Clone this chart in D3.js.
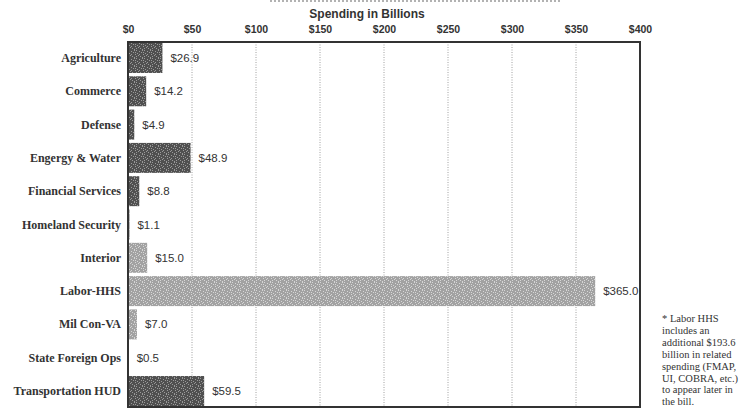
<!DOCTYPE html>
<html>
<head>
<meta charset="utf-8">
<script src="https://cdn.jsdelivr.net/npm/d3@7"></script>
<style>
  body { margin: 0; background: #fff; }
  svg { display: block; }
</style>
</head>
<body>
<div id="graph"></div>
<script>
// data
const categories = ["Agriculture", "Commerce", "Defense", "Engergy & Water", "Financial Services",
  "Homeland Security", "Interior", "Labor-HHS", "Mil Con-VA", "State Foreign Ops", "Transportation HUD"];
const values = [26.9, 14.2, 4.9, 48.9, 8.8, 1.1, 15.0, 365.0, 7.0, 0.5, 59.5];
const shades = ["dark", "dark", "dark", "dark", "dark", "dark", "light", "light", "light", "light", "dark"];
const ticks = [0, 50, 100, 150, 200, 250, 300, 350, 400];
const footnote = ["* Labor HHS", "includes an", "additional $193.6", "billion in related",
  "spending (FMAP,", "UI, COBRA, etc.)", "to appear later in", "the bill."];

let margin = {top: 42, right: 103, bottom: 2, left: 128},
  width = 743 - margin.left - margin.right,
  height = 409 - margin.top - margin.bottom;

let svg = d3.select("#graph").append("svg")
  .attr("width", 743)
  .attr("height", 409);

// scanned look: scattered speckle in an 8x8 tile
let speckle = [[0,0],[3,1],[6,0],[1,3],[5,2],[7,4],[2,5],[4,6],[6,7],[0,6],[3,4],[7,2]];
let defs = svg.append("defs");
function dither(id, base, spot) {
  let p = defs.append("pattern").attr("id", id)
    .attr("width", 8).attr("height", 8).attr("patternUnits", "userSpaceOnUse");
  p.append("rect").attr("width", 8).attr("height", 8).attr("fill", base);
  p.selectAll("rect.s").data(speckle).join("rect").attr("class", "s")
    .attr("x", d => d[0]).attr("y", d => d[1]).attr("width", 1).attr("height", 1).attr("fill", spot);
}
dither("darkfill", "#505050", "#9a9a9a");
dither("lightfill", "#a2a2a2", "#d6d6d6");

// cut off title line at top
svg.append("line")
  .attr("x1", 270).attr("x2", 560).attr("y1", 1).attr("y2", 1)
  .attr("stroke", "#999").attr("stroke-width", 1.5).attr("stroke-dasharray", "2,2");

let g = svg.append("g").attr("transform", "translate(" + margin.left + "," + margin.top + ")");

let x = d3.scaleLinear().domain([0, 400]).range([0, width]);
let y = d3.scaleBand().domain(categories).range([0, height]).paddingInner(0.1).paddingOuter(0.03);

// grid
g.selectAll(".grid").data(ticks.slice(1, -1)).join("line")
  .attr("x1", d => x(d)).attr("x2", d => x(d))
  .attr("y1", 0).attr("y2", height)
  .attr("stroke", "#888").attr("stroke-width", 0.8).attr("stroke-dasharray", "1,1.5");

// top axis
let axis = g.append("g")
  .call(d3.axisTop(x).tickValues(ticks).tickFormat(d => "$" + d).tickSize(0).tickPadding(9));
axis.select(".domain").remove();
axis.selectAll("text")
  .attr("font-family", "Liberation Sans, Arial, sans-serif")
  .attr("font-size", 10.5).attr("font-weight", "bold").attr("fill", "#333");

svg.append("text")
  .attr("x", 367).attr("y", 18).attr("text-anchor", "middle")
  .attr("font-family", "Liberation Sans, Arial, sans-serif")
  .attr("font-size", 12).attr("font-weight", "bold").attr("fill", "#333")
  .text("Spending in Billions");

// bars
g.selectAll(".bar").data(values).join("rect")
  .attr("x", 0)
  .attr("y", (d, i) => y(categories[i]))
  .attr("width", d => x(d))
  .attr("height", y.bandwidth())
  .attr("fill", (d, i) => shades[i] == "dark" ? "url(#darkfill)" : "url(#lightfill)");

// value labels
g.selectAll(".val").data(values).join("text")
  .attr("x", d => x(d) + 8)
  .attr("y", (d, i) => y(categories[i]) + y.bandwidth() / 2 + 4)
  .attr("font-family", "Liberation Sans, Arial, sans-serif")
  .attr("font-size", 11.5).attr("fill", "#333")
  .text(d => "$" + d.toFixed(1));

// category labels
g.selectAll(".cat").data(categories).join("text")
  .attr("x", -7)
  .attr("y", d => y(d) + y.bandwidth() / 2 + 4)
  .attr("text-anchor", "end")
  .attr("font-family", "Liberation Serif, Times New Roman, serif")
  .attr("font-size", 12).attr("font-weight", "bold").attr("fill", "#333")
  .text(d => d);

// frame
g.append("rect")
  .attr("x", 0).attr("y", 0).attr("width", width).attr("height", height)
  .attr("fill", "none").attr("stroke", "#333").attr("stroke-width", 2);

// footnote
svg.append("g").selectAll("text").data(footnote).join("text")
  .attr("x", 662)
  .attr("y", (d, i) => 322 + i * 11.9)
  .attr("font-family", "Liberation Serif, Times New Roman, serif")
  .attr("font-size", 10.5).attr("fill", "#333")
  .text(d => d);
</script>
</body>
</html>
